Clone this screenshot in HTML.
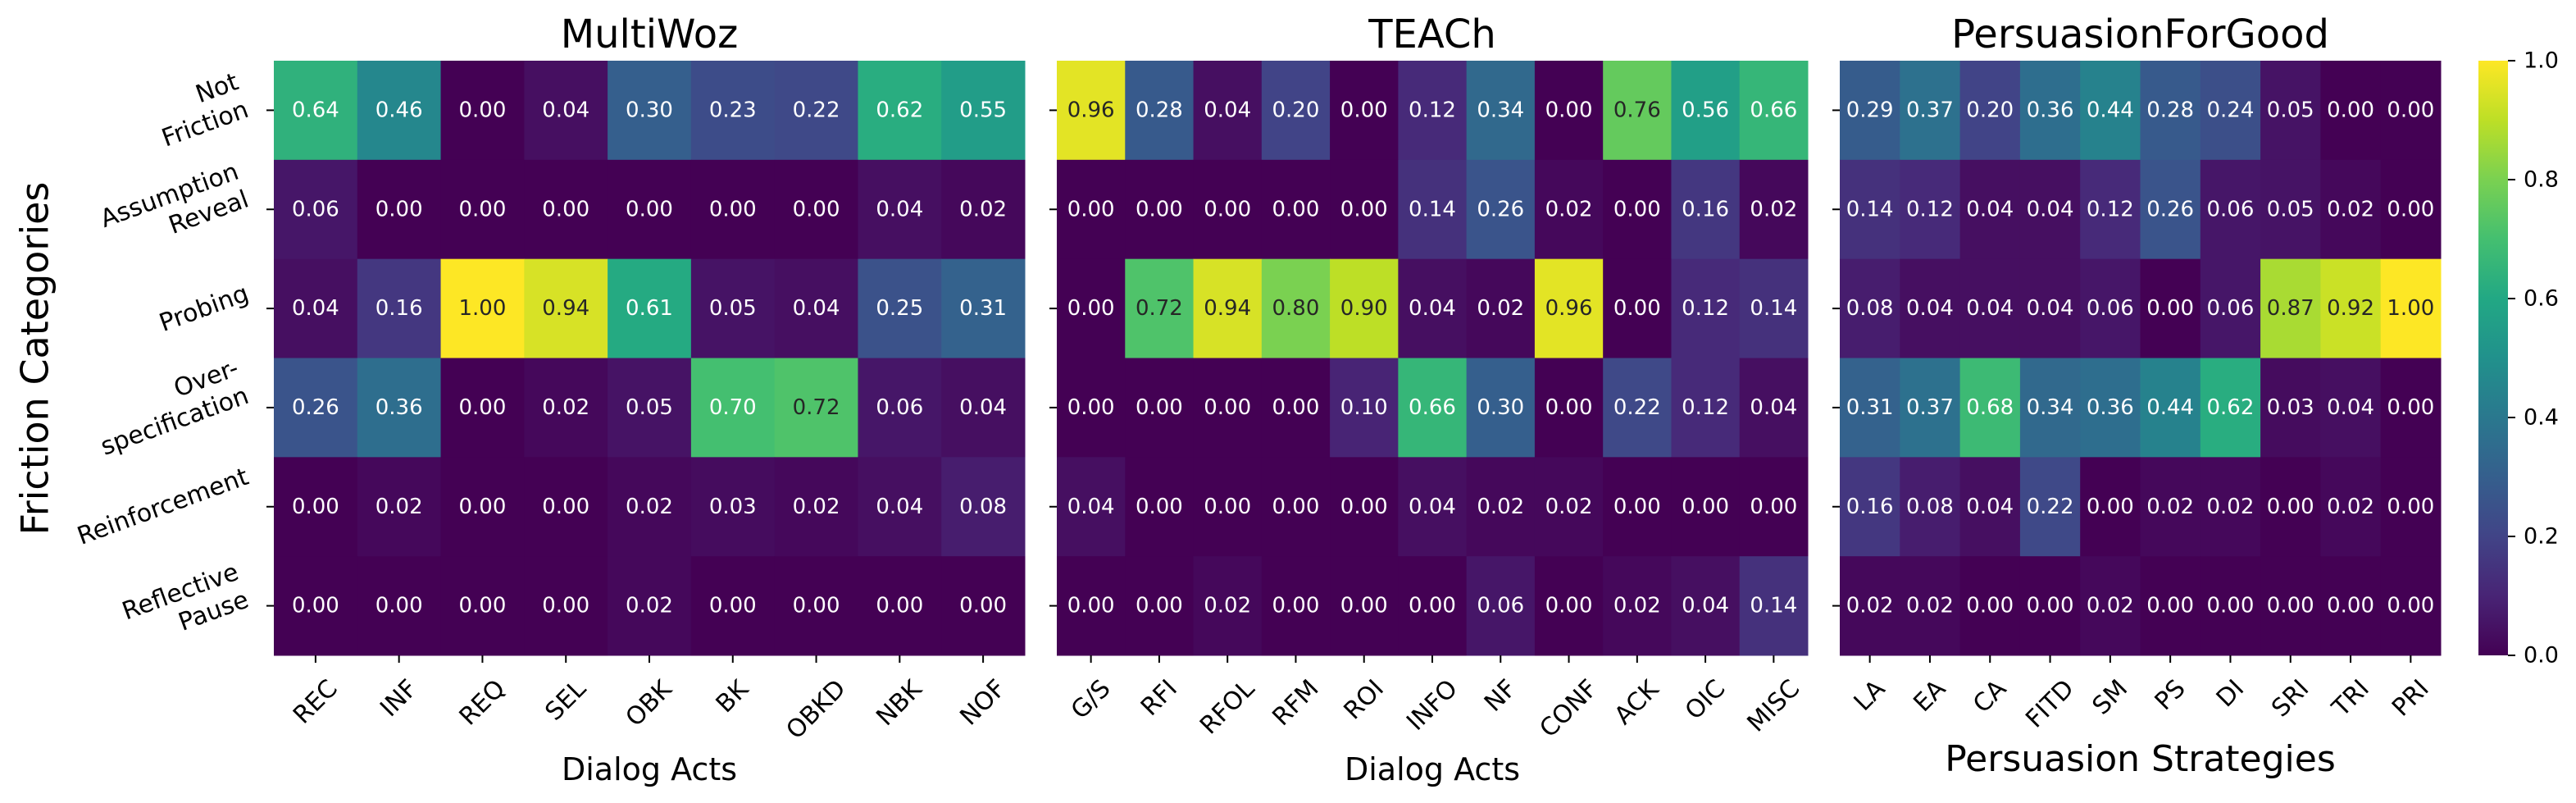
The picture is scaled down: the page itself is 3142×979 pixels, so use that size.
<!DOCTYPE html>
<html><head><meta charset="utf-8"><style>
html,body{margin:0;padding:0;background:#fff;}
svg{display:block;font-family:"DejaVu Sans","Liberation Sans",sans-serif;}
</style></head><body>
<svg id="chart" xmlns="http://www.w3.org/2000/svg" width="3142" height="979" viewBox="0 0 3142 979">
<defs>
<linearGradient id="vir" x1="0" y1="1" x2="0" y2="0">
<stop offset="0" stop-color="#440154"/><stop offset="0.1" stop-color="#482475"/><stop offset="0.2" stop-color="#414487"/><stop offset="0.3" stop-color="#355f8d"/><stop offset="0.4" stop-color="#2a788e"/><stop offset="0.5" stop-color="#21918c"/><stop offset="0.6" stop-color="#22a884"/><stop offset="0.7" stop-color="#44bf70"/><stop offset="0.8" stop-color="#7ad151"/><stop offset="0.9" stop-color="#bddf26"/><stop offset="1" stop-color="#fde725"/>
</linearGradient>
</defs>
<text x="46" y="437" font-size="46" text-anchor="middle" transform="rotate(-90 46 437)" dominant-baseline="middle">Friction Categories</text>
<g>
<rect x="3023" y="74" width="36" height="725" fill="url(#vir)"/>
<g id="cbticks"></g>
</g>
</svg>
<script>
const rowLabels = [["Not","Friction"],["Assumption","Reveal"],["Probing"],["Over-","specification"],["Reinforcement"],["Reflective","Pause"]];
const mwCols = ["REC","INF","REQ","SEL","OBK","BK","OBKD","NBK","NOF"];
const mwVals = [
 [0.64,0.46,0.00,0.04,0.30,0.23,0.22,0.62,0.55],
 [0.06,0.00,0.00,0.00,0.00,0.00,0.00,0.04,0.02],
 [0.04,0.16,1.00,0.94,0.61,0.05,0.04,0.25,0.31],
 [0.26,0.36,0.00,0.02,0.05,0.70,0.72,0.06,0.04],
 [0.00,0.02,0.00,0.00,0.02,0.03,0.02,0.04,0.08],
 [0.00,0.00,0.00,0.00,0.02,0.00,0.00,0.00,0.00]];
const teCols = ["G/S","RFI","RFOL","RFM","ROI","INFO","NF","CONF","ACK","OIC","MISC"];
const teVals = [
 [0.96,0.28,0.04,0.20,0.00,0.12,0.34,0.00,0.76,0.56,0.66],
 [0.00,0.00,0.00,0.00,0.00,0.14,0.26,0.02,0.00,0.16,0.02],
 [0.00,0.72,0.94,0.80,0.90,0.04,0.02,0.96,0.00,0.12,0.14],
 [0.00,0.00,0.00,0.00,0.10,0.66,0.30,0.00,0.22,0.12,0.04],
 [0.04,0.00,0.00,0.00,0.00,0.04,0.02,0.02,0.00,0.00,0.00],
 [0.00,0.00,0.02,0.00,0.00,0.00,0.06,0.00,0.02,0.04,0.14]];
const pgCols = ["LA","EA","CA","FITD","SM","PS","DI","SRI","TRI","PRI"];
const pgVals = [
 [0.29,0.37,0.20,0.36,0.44,0.28,0.24,0.05,0.00,0.00],
 [0.14,0.12,0.04,0.04,0.12,0.26,0.06,0.05,0.02,0.00],
 [0.08,0.04,0.04,0.04,0.06,0.00,0.06,0.87,0.92,1.00],
 [0.31,0.37,0.68,0.34,0.36,0.44,0.62,0.03,0.04,0.00],
 [0.16,0.08,0.04,0.22,0.00,0.02,0.02,0.00,0.02,0.00],
 [0.02,0.02,0.00,0.00,0.02,0.00,0.00,0.00,0.00,0.00]];
const cbTicks = [0.0,0.2,0.4,0.6,0.8,1.0];

const NS="http://www.w3.org/2000/svg";
const svg=document.getElementById('chart');
const TOP=74, BOT=799;
const vstops=[[68,1,84],[72,36,117],[65,68,135],[53,95,141],[42,120,142],[33,145,140],[34,168,132],[68,191,112],[122,209,81],[189,223,38],[253,231,37]];
function vir(v){v=Math.max(0,Math.min(1,v));const p=v*10,i=Math.min(9,Math.floor(p)),t=p-i;const a=vstops[i],b=vstops[i+1];return [0,1,2].map(k=>Math.round(a[k]+(b[k]-a[k])*t));}
function lum(c){const l=c.map(x=>{x/=255;return x<=0.03928?x/12.92:Math.pow((x+0.055)/1.055,2.4)});return 0.2126*l[0]+0.7152*l[1]+0.0722*l[2];}
function mk(tag,attrs,parent){const e=document.createElementNS(NS,tag);for(const k in attrs)e.setAttribute(k,attrs[k]);(parent||svg).appendChild(e);return e;}

function heatmap(key,title,cols,vals,x0,x1,xlabel,xlabelSize,xlabelY,showRowLabels){
  const g=mk('g',{});
  
  
  const nr=vals.length,nc=cols.length;
  const cw=(x1-x0)/nc, rh=(BOT-TOP)/nr;
  const xs=j=>x0+j*cw, ys=i=>TOP+i*rh;
  for(let i=0;i<nr;i++)for(let j=0;j<nc;j++){
    const v=vals[i][j],c=vir(v);
    const r=mk('rect',{x:xs(j),y:ys(i),width:cw+0.5,height:rh+0.5,fill:`rgb(${c})`},g);
    
    
    const t=mk('text',{x:xs(j)+cw/2,y:ys(i)+rh/2,'font-size':26,'text-anchor':'middle','dominant-baseline':'central',fill:lum(c)>0.408?'#262626':'#ffffff'},g);
    
    
    t.textContent=v.toFixed(2);
  }
  const tt=mk('text',{x:(x0+x1)/2,y:58,'font-size':48,'text-anchor':'middle'},g);
  
  
  tt.textContent=title;
  const xl=mk('text',{x:(x0+x1)/2,y:xlabelY,'font-size':xlabelSize,'text-anchor':'middle'},g);
  
  
  xl.textContent=xlabel;
  for(let j=0;j<nc;j++){
    const cx=xs(j)+cw/2;
    mk('line',{x1:cx,y1:BOT,x2:cx,y2:BOT+9,stroke:'#000','stroke-width':2},g);
    const og=mk('g',{},g);
    const ig=mk('g',{transform:'rotate(-45)'},og);
    const t=mk('text',{x:0,y:0,'font-size':30,'text-anchor':'middle'},ig);
    
    
    t.textContent=cols[j];
    const bb=og.getBBox();
    og.setAttribute('transform',`translate(${cx-(bb.x+bb.width/2)},${822-bb.y})`);
  }
  for(let i=0;i<nr;i++){
    const cy=ys(i)+rh/2;
    mk('line',{x1:x0-9,y1:cy,x2:x0,y2:cy,stroke:'#000','stroke-width':2},g);
    if(!showRowLabels)continue;
    const og=mk('g',{},g);
    const ig=mk('g',{transform:'rotate(-20)'},og);
    const lines=rowLabels[i];
    const t=mk('text',{x:0,y:0,'font-size':30,'text-anchor':'end'},ig);
    
    
    lines.forEach((s,k)=>{const sp=mk('tspan',{x:0,dy:k?36:0},t);sp.textContent=s;});
    const bb=og.getBBox();
    og.setAttribute('transform',`translate(${308-(bb.x+bb.width)},${cy-(bb.y+bb.height/2)})`);
  }
}
heatmap('multiwoz','MultiWoz',mwCols,mwVals,334,1250,'Dialog Acts',38,951,true);
heatmap('teach','TEACh',teCols,teVals,1289,2205,'Dialog Acts',38,951,false);
heatmap('persuasion','PersuasionForGood',pgCols,pgVals,2244,2977,'Persuasion Strategies',44,940,false);

const cb=document.getElementById('cbticks');
cbTicks.forEach(v=>{
  const y=BOT-(BOT-TOP)*v;
  mk('line',{x1:3059,y1:y,x2:3068,y2:y,stroke:'#000','stroke-width':2},cb);
  const t=mk('text',{x:3078,y:y,'font-size':27,'dominant-baseline':'central'},cb);
  
  
  t.textContent=v.toFixed(1);
});
</script>
</body></html>
